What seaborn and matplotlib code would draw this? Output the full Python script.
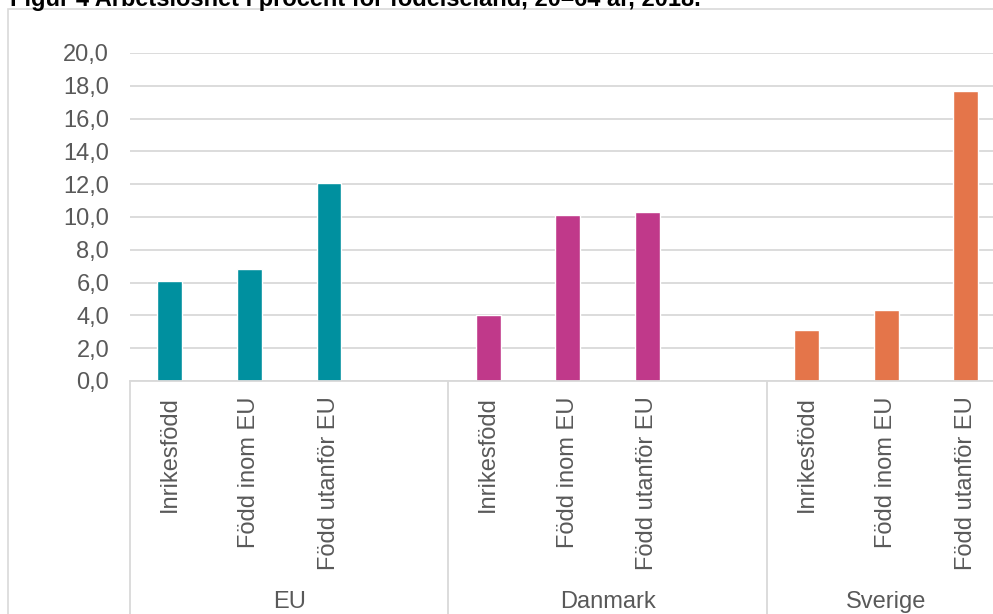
import numpy as np
import pandas as pd
import matplotlib
matplotlib.use("Agg")
import matplotlib.pyplot as plt
from matplotlib.lines import Line2D
from matplotlib.patches import Rectangle
import seaborn as sns

# ---- data ----
groups = ["EU", "Danmark", "Sverige"]
categories = ["Inrikesfödd", "Född inom EU", "Född utanför EU"]
values_eu = [6.1, 6.8, 12.1]
values_dk = [4.0, 10.1, 10.3]
values_se = [3.1, 4.3, 17.7]
yticks = [0, 2, 4, 6, 8, 10, 12, 14, 16, 18, 20]
title = "Figur 4 Arbetslöshet i procent för födelseland, 20–64 år, 2018."
colors = {"EU": "#00909F", "Danmark": "#C0398A", "Sverige": "#E4754A"}

# slots per group in the Excel layout (EU and Danmark have a trailing empty slot)
group_slots = [4, 4, 3]
starts = np.concatenate([[0], np.cumsum(group_slots)[:-1]])

rows = []
for gi, (g, vals) in enumerate(zip(groups, [values_eu, values_dk, values_se])):
    for ci, (c, v) in enumerate(zip(categories, vals)):
        rows.append({"group": g, "category": c, "pos": int(starts[gi]) + ci, "value": v})
df = pd.DataFrame(rows)

sns.set_theme(style="white")
plt.rcParams["font.family"] = ["Liberation Sans", "DejaVu Sans"]

W, H = 993, 614
fig = plt.figure(figsize=(W / 100, H / 100), dpi=100)
fig.patch.set_facecolor("white")

slot_px = 79.6
n_slots = int(sum(group_slots))
ax_left, ax_bottom_px, ax_top_px = 130, 381, 53
ax = fig.add_axes([ax_left / W, (H - ax_bottom_px) / H,
                   n_slots * slot_px / W, (ax_bottom_px - ax_top_px) / H])

sns.barplot(data=df, x="pos", y="value", hue="group", palette=colors,
            hue_order=groups, native_scale=True, dodge=False, width=0.314,
            legend=False, ax=ax, saturation=1)

grid_c = "#D9D9D9"
text_c = "#595959"
ax.set_xlim(-0.5, n_slots - 0.5)
ax.set_ylim(0, 20)
ax.set_yticks(yticks)
ax.set_yticklabels([f"{t:.1f}".replace(".", ",") for t in yticks])
ax.yaxis.grid(True, color=grid_c, lw=1.3)
ax.set_axisbelow(True)
for s in ["top", "right", "left"]:
    ax.spines[s].set_visible(False)
ax.spines["bottom"].set_color(grid_c)
ax.spines["bottom"].set_linewidth(1.3)
ax.tick_params(axis="y", length=0, pad=15, labelsize=17, labelcolor=text_c)
ax.set_xticks(df["pos"].tolist())
ax.set_xticklabels(df["category"].tolist(), rotation=90, ha="center", va="top")
ax.tick_params(axis="x", length=0, pad=11, labelsize=17, labelcolor=text_c)
ax.set_xlabel("")
ax.set_ylabel("")

# group dividers and group labels
ax_h_px = ax_bottom_px - ax_top_px
bottom_axes = -(H - ax_bottom_px) / ax_h_px
trans = ax.get_xaxis_transform()
bounds = np.concatenate([[0], np.cumsum(group_slots)]) - 0.5
for xb in bounds:
    ax.add_line(Line2D([xb, xb], [0, bottom_axes], transform=trans,
                       color=grid_c, lw=1.3, clip_on=False))
for gi, g in enumerate(groups):
    xc = (bounds[gi] + bounds[gi + 1]) / 2
    ax.text(xc, -(602 - ax_bottom_px) / ax_h_px, g, transform=trans,
            ha="center", va="center", fontsize=17, color=text_c)

# outer chart border
fig.patches.append(Rectangle((8 / W, -0.1), 1.2, 1.1 - 9 / H,
                             transform=fig.transFigure, fill=False,
                             edgecolor=grid_c, lw=1.2))

# title (cut off at the top in the reference)
fig.text(10 / W, 1 - 6 / H, title, ha="left", va="baseline",
         fontsize=17, fontweight="bold", color="black")

fig.savefig("out.png", dpi=100)
